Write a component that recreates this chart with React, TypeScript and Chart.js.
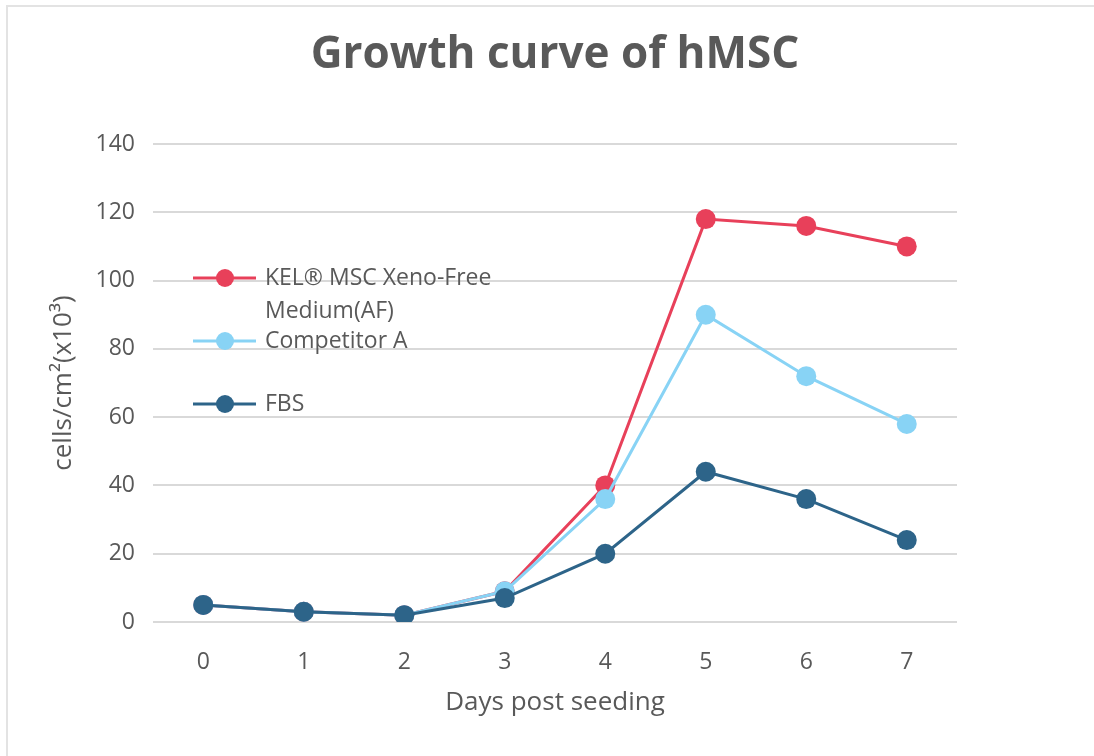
import React, { useEffect, useRef } from "react";
import { Chart, registerables } from "chart.js";

Chart.register(...registerables);

const days = ["0", "1", "2", "3", "4", "5", "6", "7"];
const kelValues = [5, 3, 2, 9, 40, 118, 116, 110];
const competitorValues = [5, 3, 2, 9, 36, 90, 72, 58];
const fbsValues = [5, 3, 2, 7, 20, 44, 36, 24];
const seriesNames = ["KEL® MSC Xeno-Free Medium(AF)", "Competitor A", "FBS"];
const legendLines = [["KEL® MSC Xeno-Free", "Medium(AF)"], ["Competitor A"], ["FBS"]];
const seriesColors = ["#E8405A", "#88D3F5", "#2D6489"];
const chartTitle = "Growth curve of hMSC";

const FONT = "'Open Sans', 'Noto Sans', sans-serif";
const TEXT = "#595959";

const legendPlugin = {
  id: "customLegend",
  afterDraw(chart: any) {
    const ctx = chart.ctx;
    const area = chart.chartArea;
    ctx.save();
    // title
    ctx.font = `bold 44px ${FONT}`;
    ctx.fillStyle = TEXT;
    ctx.textAlign = "center";
    ctx.textBaseline = "middle";
    ctx.fillText(chartTitle, 555, 55);
    // legend
    const x0 = area.left + 40;
    const rows = [area.top + 134, area.top + 197, area.top + 260];
    ctx.font = `23px ${FONT}`;
    ctx.textBaseline = "middle";
    ctx.textAlign = "left";
    legendLines.forEach((lines, i) => {
      const y = rows[i];
      const color = seriesColors[i];
      ctx.strokeStyle = color;
      ctx.lineWidth = 3;
      ctx.beginPath();
      ctx.moveTo(x0, y);
      ctx.lineTo(x0 + 63, y);
      ctx.stroke();
      ctx.fillStyle = color;
      ctx.beginPath();
      ctx.arc(x0 + 32, y, 9, 0, Math.PI * 2);
      ctx.fill();
      ctx.fillStyle = TEXT;
      lines.forEach((t, j) => ctx.fillText(t, x0 + 72, y + j * 33));
    });
    ctx.restore();
  },
};

export default function App() {
  const ref = useRef<HTMLCanvasElement | null>(null);
  useEffect(() => {
    if (!ref.current) return;
    const values = [kelValues, competitorValues, fbsValues];
    const chart = new Chart(ref.current, {
      type: "line",
      data: {
        labels: days,
        datasets: values.map((v, i) => ({
          label: seriesNames[i],
          data: v,
          borderColor: seriesColors[i],
          backgroundColor: seriesColors[i],
          pointBackgroundColor: seriesColors[i],
          pointBorderColor: seriesColors[i],
          borderWidth: 3,
          pointRadius: 10,
          pointBorderWidth: 0,
          tension: 0,
          order: 3 - i,
        })),
      },
      options: {
        animation: false,
        responsive: false,
        maintainAspectRatio: false,
        layout: { padding: { top: 144, left: 48, right: 137, bottom: 38 } },
        plugins: {
          legend: { display: false },
          tooltip: { enabled: false },
          title: { display: false },
        },
        scales: {
          x: {
            offset: true,
            grid: { display: false },
            border: { display: false },
            ticks: { color: TEXT, font: { family: FONT, size: 23 }, padding: 19 },
            title: {
              display: true,
              text: "Days post seeding",
              color: TEXT,
              font: { family: FONT, size: 26 },
              padding: 0,
            },
            afterFit: (s: any) => {
              s.height = 96;
            },
          },
          y: {
            min: 0,
            max: 140,
            ticks: { stepSize: 20, color: TEXT, font: { family: FONT, size: 23 }, padding: 18 },
            grid: { color: "#D9D9D9", lineWidth: 2, drawTicks: false },
            border: { display: false },
            title: {
              display: true,
              text: "cells/cm²(x10³)",
              color: TEXT,
              font: { family: FONT, size: 26 },
              padding: 0,
            },
            afterFit: (s: any) => {
              s.width = 105;
            },
          },
        },
      },
      plugins: [legendPlugin],
    });
    return () => chart.destroy();
  }, []);

  return (
    <div style={{ position: "fixed", left: 0, top: 0, width: 1094, height: 756, background: "#fff" }}>
      <div
        style={{
          position: "absolute",
          left: 6,
          top: 5,
          width: 1200,
          height: 900,
          borderTop: "2px solid #E3E3E3",
          borderLeft: "2px solid #E3E3E3",
        }}
      />
      <canvas ref={ref} width={1094} height={756} style={{ position: "absolute", left: 0, top: 0 }} />
    </div>
  );
}
